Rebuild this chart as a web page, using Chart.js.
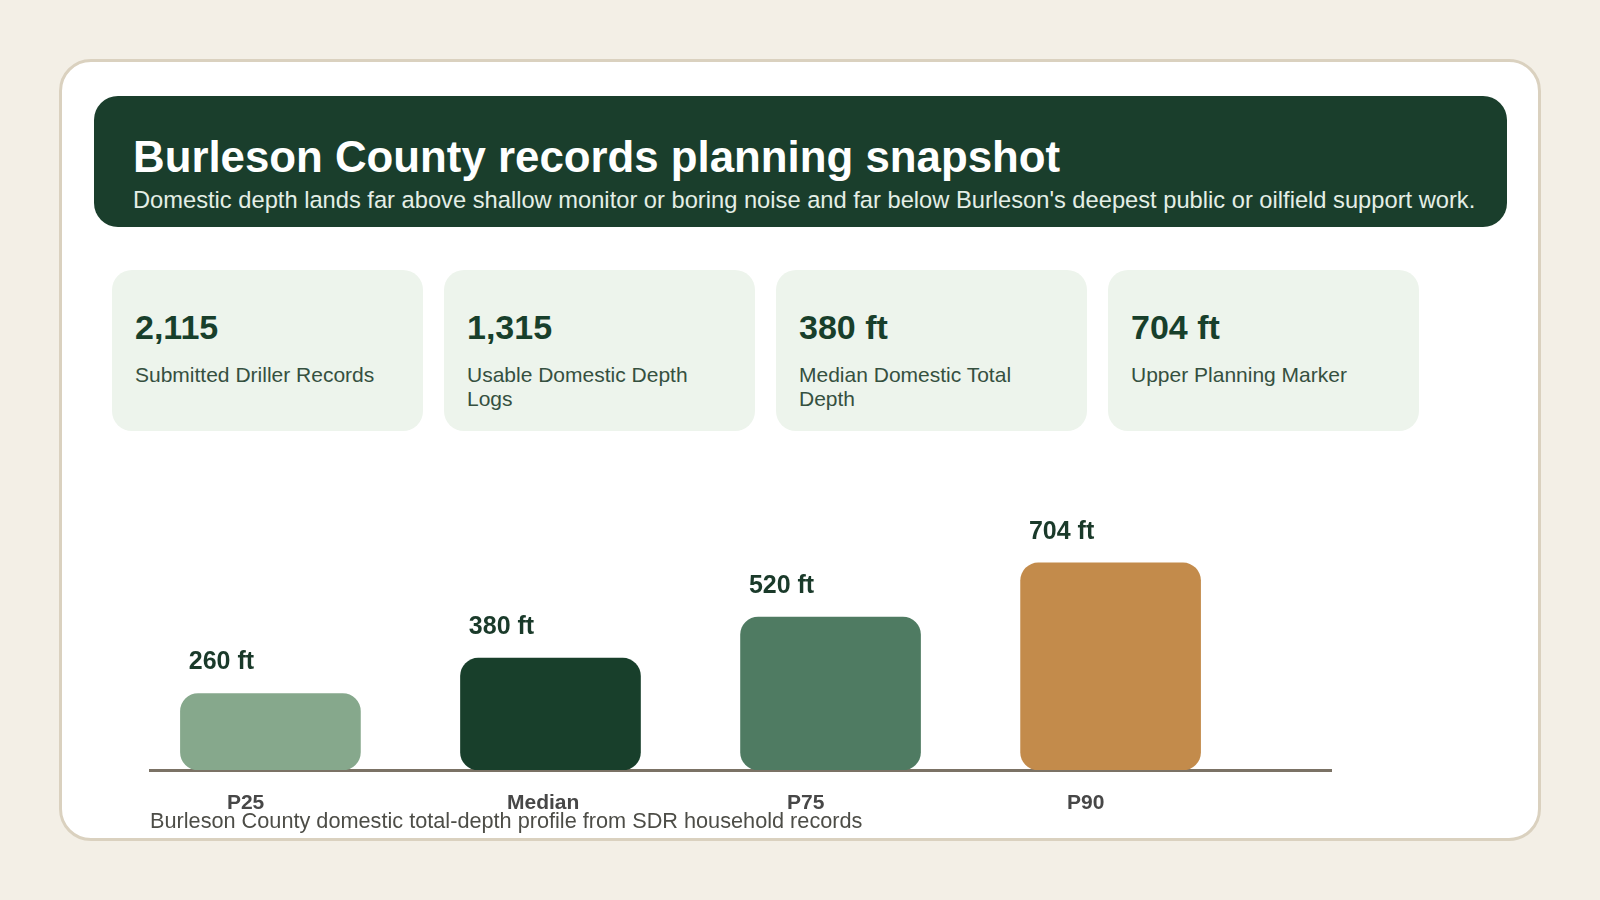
<!DOCTYPE html>
<html>
<head>
<meta charset="utf-8">
<script src="https://cdn.jsdelivr.net/npm/chart.js"></script>
<style>
  body { margin: 0; width: 1600px; height: 900px; background: #f3efe6; font-family: "Liberation Sans", Arial, sans-serif; position: relative; overflow: hidden; }
  .card { position: absolute; left: 59px; top: 59px; width: 1482px; height: 782px; box-sizing: border-box; border: 3px solid #dad1bf; border-radius: 32px; background: #fff; }
  .header { position: absolute; left: 94px; top: 96px; width: 1413px; height: 131px; border-radius: 24px; background: #1a3e2c; }
  .title { position: absolute; left: 133px; top: 134.5px; font-size: 43.8px; line-height: 44px; font-weight: bold; color: #fff; white-space: nowrap; }
  .subtitle { position: absolute; left: 133px; top: 188.5px; font-size: 23.7px; line-height: 23.7px; color: #e4eee6; white-space: nowrap; }
  .kpi { position: absolute; top: 270px; width: 311px; height: 161px; box-sizing: border-box; padding: 40px 22px 0 23px; border-radius: 20px; background: #edf4ec; }
  .kpi .v { font-size: 34px; line-height: 34px; font-weight: bold; color: #183f2b; }
  .kpi .l { margin-top: 19px; font-size: 21px; line-height: 23.5px; color: #35503f; }
  .chart-box { position: absolute; left: 100px; top: 480px; width: 1300px; height: 360px; }
  .caption { position: absolute; left: 150px; top: 810px; font-size: 21.7px; line-height: 21.7px; color: #4d4d47; white-space: nowrap; }
</style>
</head>
<body>
<div class="card"></div>
<div class="header"></div>
<div class="title">Burleson County records planning snapshot</div>
<div class="subtitle">Domestic depth lands far above shallow monitor or boring noise and far below Burleson's deepest public or oilfield support work.</div>
<div id="kpis"></div>
<div class="chart-box"><canvas id="depthChart"></canvas></div>
<div class="caption">Burleson County domestic total-depth profile from SDR household records</div>

<script>
const kpiValues = ['2,115', '1,315', '380 ft', '704 ft']
const kpiLabels = ['Submitted Driller Records', 'Usable Domestic Depth Logs', 'Median Domestic Total Depth', 'Upper Planning Marker']

const categories = ['P25', 'Median', 'P75', 'P90']
const depthFt = [260, 380, 520, 704]
const barColors = ['#86a88c', '#183f2b', '#4f7b62', '#c38b4b']

let kpiPane = document.getElementById('kpis')
kpiValues.forEach((v, i) => {
    let card = document.createElement('div')
    card.className = 'kpi'
    card.style.left = (112 + i * 332) + 'px'
    card.innerHTML = `<div class="v">${v}</div><div class="l">${kpiLabels[i]}</div>`
    kpiPane.appendChild(card)
})

Chart.defaults.font.family = '"Liberation Sans", Arial, sans-serif'

// value labels sit up and to the left of each bar
const valueLabels = {
    id: 'valueLabels',
    afterDatasetsDraw(chart) {
        let ctx = chart.ctx
        let meta = chart.getDatasetMeta(0)
        ctx.save()
        ctx.font = 'bold 25px "Liberation Sans", Arial, sans-serif'
        ctx.fillStyle = '#1a3a2a'
        ctx.textAlign = 'center'
        ctx.textBaseline = 'alphabetic'
        meta.data.forEach((bar, i) => {
            ctx.fillText(`${depthFt[i]} ft`, bar.x - 49, bar.y - 24)
        })
        ctx.restore()
    }
}

let ctx = document.getElementById('depthChart').getContext('2d')
new Chart(ctx, {
    type: 'bar',
    data: {
        datasets: [{
            label: 'Domestic total depth',
            data: categories.map((c, i) => ({ x: i, y: depthFt[i] })),
            backgroundColor: barColors,
            borderRadius: 18,
            borderSkipped: false,
            barThickness: 180
        }]
    },
    options: {
        responsive: true,
        maintainAspectRatio: false,
        animation: false,
        layout: { padding: { left: 50, right: 69, top: 54.6, bottom: 2.8 } },
        plugins: {
            legend: { display: false },
            tooltip: { enabled: false }
        },
        scales: {
            x: {
                type: 'linear',
                bounds: 'data',
                offset: false,
                min: -0.43,
                max: 3.787,
                afterBuildTicks: (scale) => {
                    scale.ticks = categories.map((c, i) => ({ value: i }))
                },
                grid: { display: false, drawTicks: false },
                border: { display: true, color: '#7b7265', width: 3 },
                ticks: {
                    callback: (value) => categories[value],
                    align: 'start',
                    labelOffset: -43.5,
                    padding: 21,
                    autoSkip: false,
                    maxRotation: 0,
                    color: '#474747',
                    font: { size: 21, weight: 'bold' }
                }
            },
            y: {
                display: false,
                min: 0,
                max: 800
            }
        }
    },
    plugins: [valueLabels]
})
</script>
</body>
</html>
